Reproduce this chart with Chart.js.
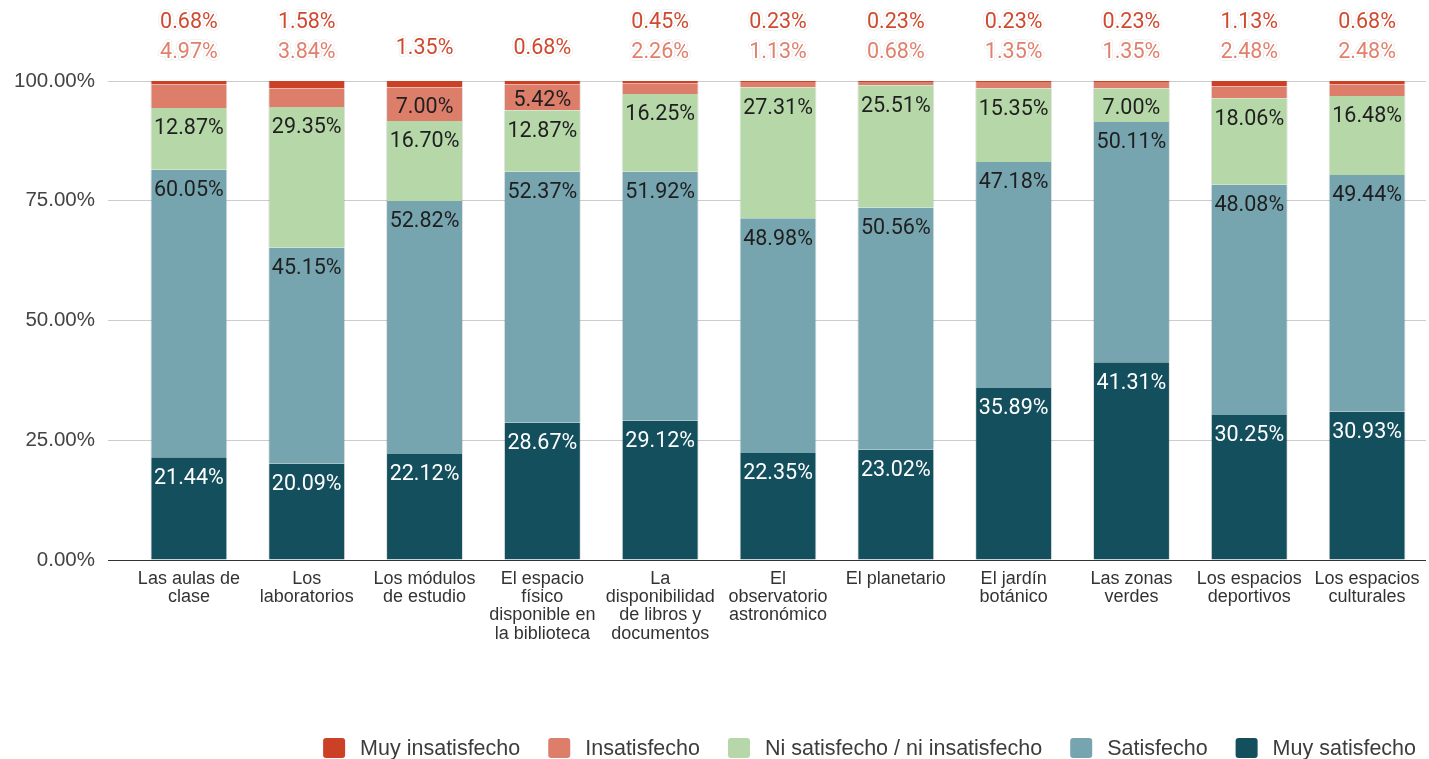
<!DOCTYPE html>
<html lang="es">
<head>
<meta charset="utf-8">
<title>Satisfacción con los espacios</title>
<script src="https://cdn.jsdelivr.net/npm/chart.js@4.4.1/dist/chart.umd.min.js"></script>
<style>
  html, body { margin: 0; padding: 0; background: #fff; }
  #wrap { width: 1429px; height: 759px; }
</style>
</head>
<body>
<div id="wrap"><canvas id="satisfaccion" width="1429" height="759"></canvas></div>
<script>
const categorias = [
  ['Las aulas de', 'clase'],
  ['Los', 'laboratorios'],
  ['Los módulos', 'de estudio'],
  ['El espacio', 'físico', 'disponible en', 'la biblioteca'],
  ['La', 'disponibilidad', 'de libros y', 'documentos'],
  ['El', 'observatorio', 'astronómico'],
  ['El planetario'],
  ['El jardín', 'botánico'],
  ['Las zonas', 'verdes'],
  ['Los espacios', 'deportivos'],
  ['Los espacios', 'culturales']
];
const muySatisfecho   = [21.44, 20.09, 22.12, 28.67, 29.12, 22.35, 23.02, 35.89, 41.31, 30.25, 30.93];
const satisfecho      = [60.05, 45.15, 52.82, 52.37, 51.92, 48.98, 50.56, 47.18, 50.11, 48.08, 49.44];
const niSatisfecho    = [12.87, 29.35, 16.70, 12.87, 16.25, 27.31, 25.51, 15.35, 7.00, 18.06, 16.48];
const insatisfecho    = [4.97, 3.84, 7.00, 5.42, 2.26, 1.13, 0.68, 1.35, 1.35, 2.48, 2.48];
const muyInsatisfecho = [0.68, 1.58, 1.35, 0.68, 0.45, 0.23, 0.23, 0.23, 0.23, 1.13, 0.68];
const ticksY = [0, 25, 50, 75, 100];

const FUENTE = '"Liberation Sans", Arial, sans-serif';
const FUENTE_VALORES = 'Roboto, "Liberation Sans", sans-serif';

// stacked bottom to top
const series = [
  { label: 'Muy satisfecho', data: muySatisfecho, color: '#134f5c', texto: '#ffffff' },
  { label: 'Satisfecho', data: satisfecho, color: '#76a5af', texto: '#1f1f1f' },
  { label: 'Ni satisfecho / ni insatisfecho', data: niSatisfecho, color: '#b6d7a8', texto: '#1f1f1f' },
  { label: 'Insatisfecho', data: insatisfecho, color: '#dd7e6b', texto: '#1f1f1f', fuera: '#e0806d' },
  { label: 'Muy insatisfecho', data: muyInsatisfecho, color: '#cc4125', texto: '#1f1f1f', fuera: '#cf4a2f' }
];

function textoConHalo(ctx, texto, x, y, color) {
  ctx.lineJoin = 'round';
  ctx.strokeStyle = 'rgba(0,0,0,0.08)';
  ctx.lineWidth = 5.5;
  ctx.strokeText(texto, x, y);
  ctx.strokeStyle = '#ffffff';
  ctx.lineWidth = 4;
  ctx.strokeText(texto, x, y);
  ctx.fillStyle = color;
  ctx.fillText(texto, x, y);
}

// percentage labels: inside the segment when it fits, otherwise above the plot
const etiquetas = {
  id: 'etiquetas',
  afterDatasetsDraw(chart) {
    const { ctx, chartArea } = chart;
    const ajuste = 3; // Roboto sits a little high on a middle baseline
    ctx.save();
    ctx.font = '21.5px ' + FUENTE_VALORES;
    ctx.textAlign = 'center';
    ctx.textBaseline = 'middle';
    chart.data.labels.forEach((_, j) => {
      const arriba = [];
      series.forEach((s, i) => {
        const bar = chart.getDatasetMeta(i).data[j];
        const v = s.data[j];
        const texto = v.toFixed(2) + '%';
        if (i < 3 || (i === 3 && v >= 5)) {
          const y = Math.min(bar.y + 18, (bar.y + bar.base) / 2);
          ctx.fillStyle = s.texto;
          ctx.fillText(texto, bar.x, y + ajuste);
        } else {
          arriba.unshift({ texto, x: bar.x, color: s.fuera });
        }
      });
      const filas = arriba.length === 2 ? [chartArea.top - 61, chartArea.top - 31] : [chartArea.top - 35];
      arriba.forEach((e, k) => textoConHalo(ctx, e.texto, e.x, filas[k] + ajuste, e.color));
    });
    ctx.restore();
  }
};

// legend row, right aligned under the axis labels
const leyenda = {
  id: 'leyenda',
  afterDraw(chart) {
    const { ctx } = chart;
    const items = series.slice().reverse();
    const caja = 22, altoCaja = 20, hueco = 15, separacion = 28;
    const fin = 1416, cy = 748;
    ctx.save();
    ctx.font = '21.5px ' + FUENTE;
    ctx.textBaseline = 'middle';
    ctx.textAlign = 'left';
    const anchos = items.map(s => ctx.measureText(s.label).width);
    const total = anchos.reduce((a, w) => a + caja + hueco + w, 0) + separacion * (items.length - 1);
    let x = fin - total;
    items.forEach((s, k) => {
      ctx.fillStyle = s.color;
      ctx.beginPath();
      ctx.roundRect(x, cy - altoCaja / 2, caja, altoCaja, 3);
      ctx.fill();
      ctx.fillStyle = '#3c3c3c';
      ctx.fillText(s.label, x + caja + hueco, cy + 1);
      x += caja + hueco + anchos[k] + separacion;
    });
    ctx.restore();
  }
};

new Chart(document.getElementById('satisfaccion'), {
  type: 'bar',
  data: {
    labels: categorias,
    datasets: series.map(s => ({
      label: s.label,
      data: s.data,
      backgroundColor: s.color,
      borderColor: 'rgba(0,0,0,0.12)',
      borderWidth: { left: 1, right: 1, top: 0, bottom: 0 },
      borderSkipped: false,
      categoryPercentage: 1,
      barPercentage: 0.653
    }))
  },
  options: {
    responsive: false,
    devicePixelRatio: 1,
    animation: false,
    layout: { padding: { top: 81, right: 3, bottom: 0, left: 0 } },
    plugins: {
      legend: { display: false },
      tooltip: { enabled: false }
    },
    scales: {
      x: {
        stacked: true,
        grid: { display: false },
        border: { display: false },
        ticks: {
          color: '#333',
          font: { family: FUENTE, size: 18, lineHeight: 1.01 },
          maxRotation: 0,
          autoSkip: false,
          padding: 2
        },
        afterFit: s => { s.height = 199; }
      },
      y: {
        stacked: true,
        min: 0,
        max: 100,
        afterBuildTicks: s => { s.ticks = ticksY.map(v => ({ value: v })); },
        border: { display: false },
        grid: {
          color: c => (c.tick && c.tick.value === 0 ? '#333' : '#cccccc'),
          tickLength: 22
        },
        ticks: {
          color: '#444',
          font: { family: FUENTE, size: 20.5 },
          padding: 13,
          callback: v => v.toFixed(2) + '%'
        },
        afterFit: s => { s.width = 130; }
      }
    }
  },
  plugins: [etiquetas, leyenda]
});
</script>
</body>
</html>
